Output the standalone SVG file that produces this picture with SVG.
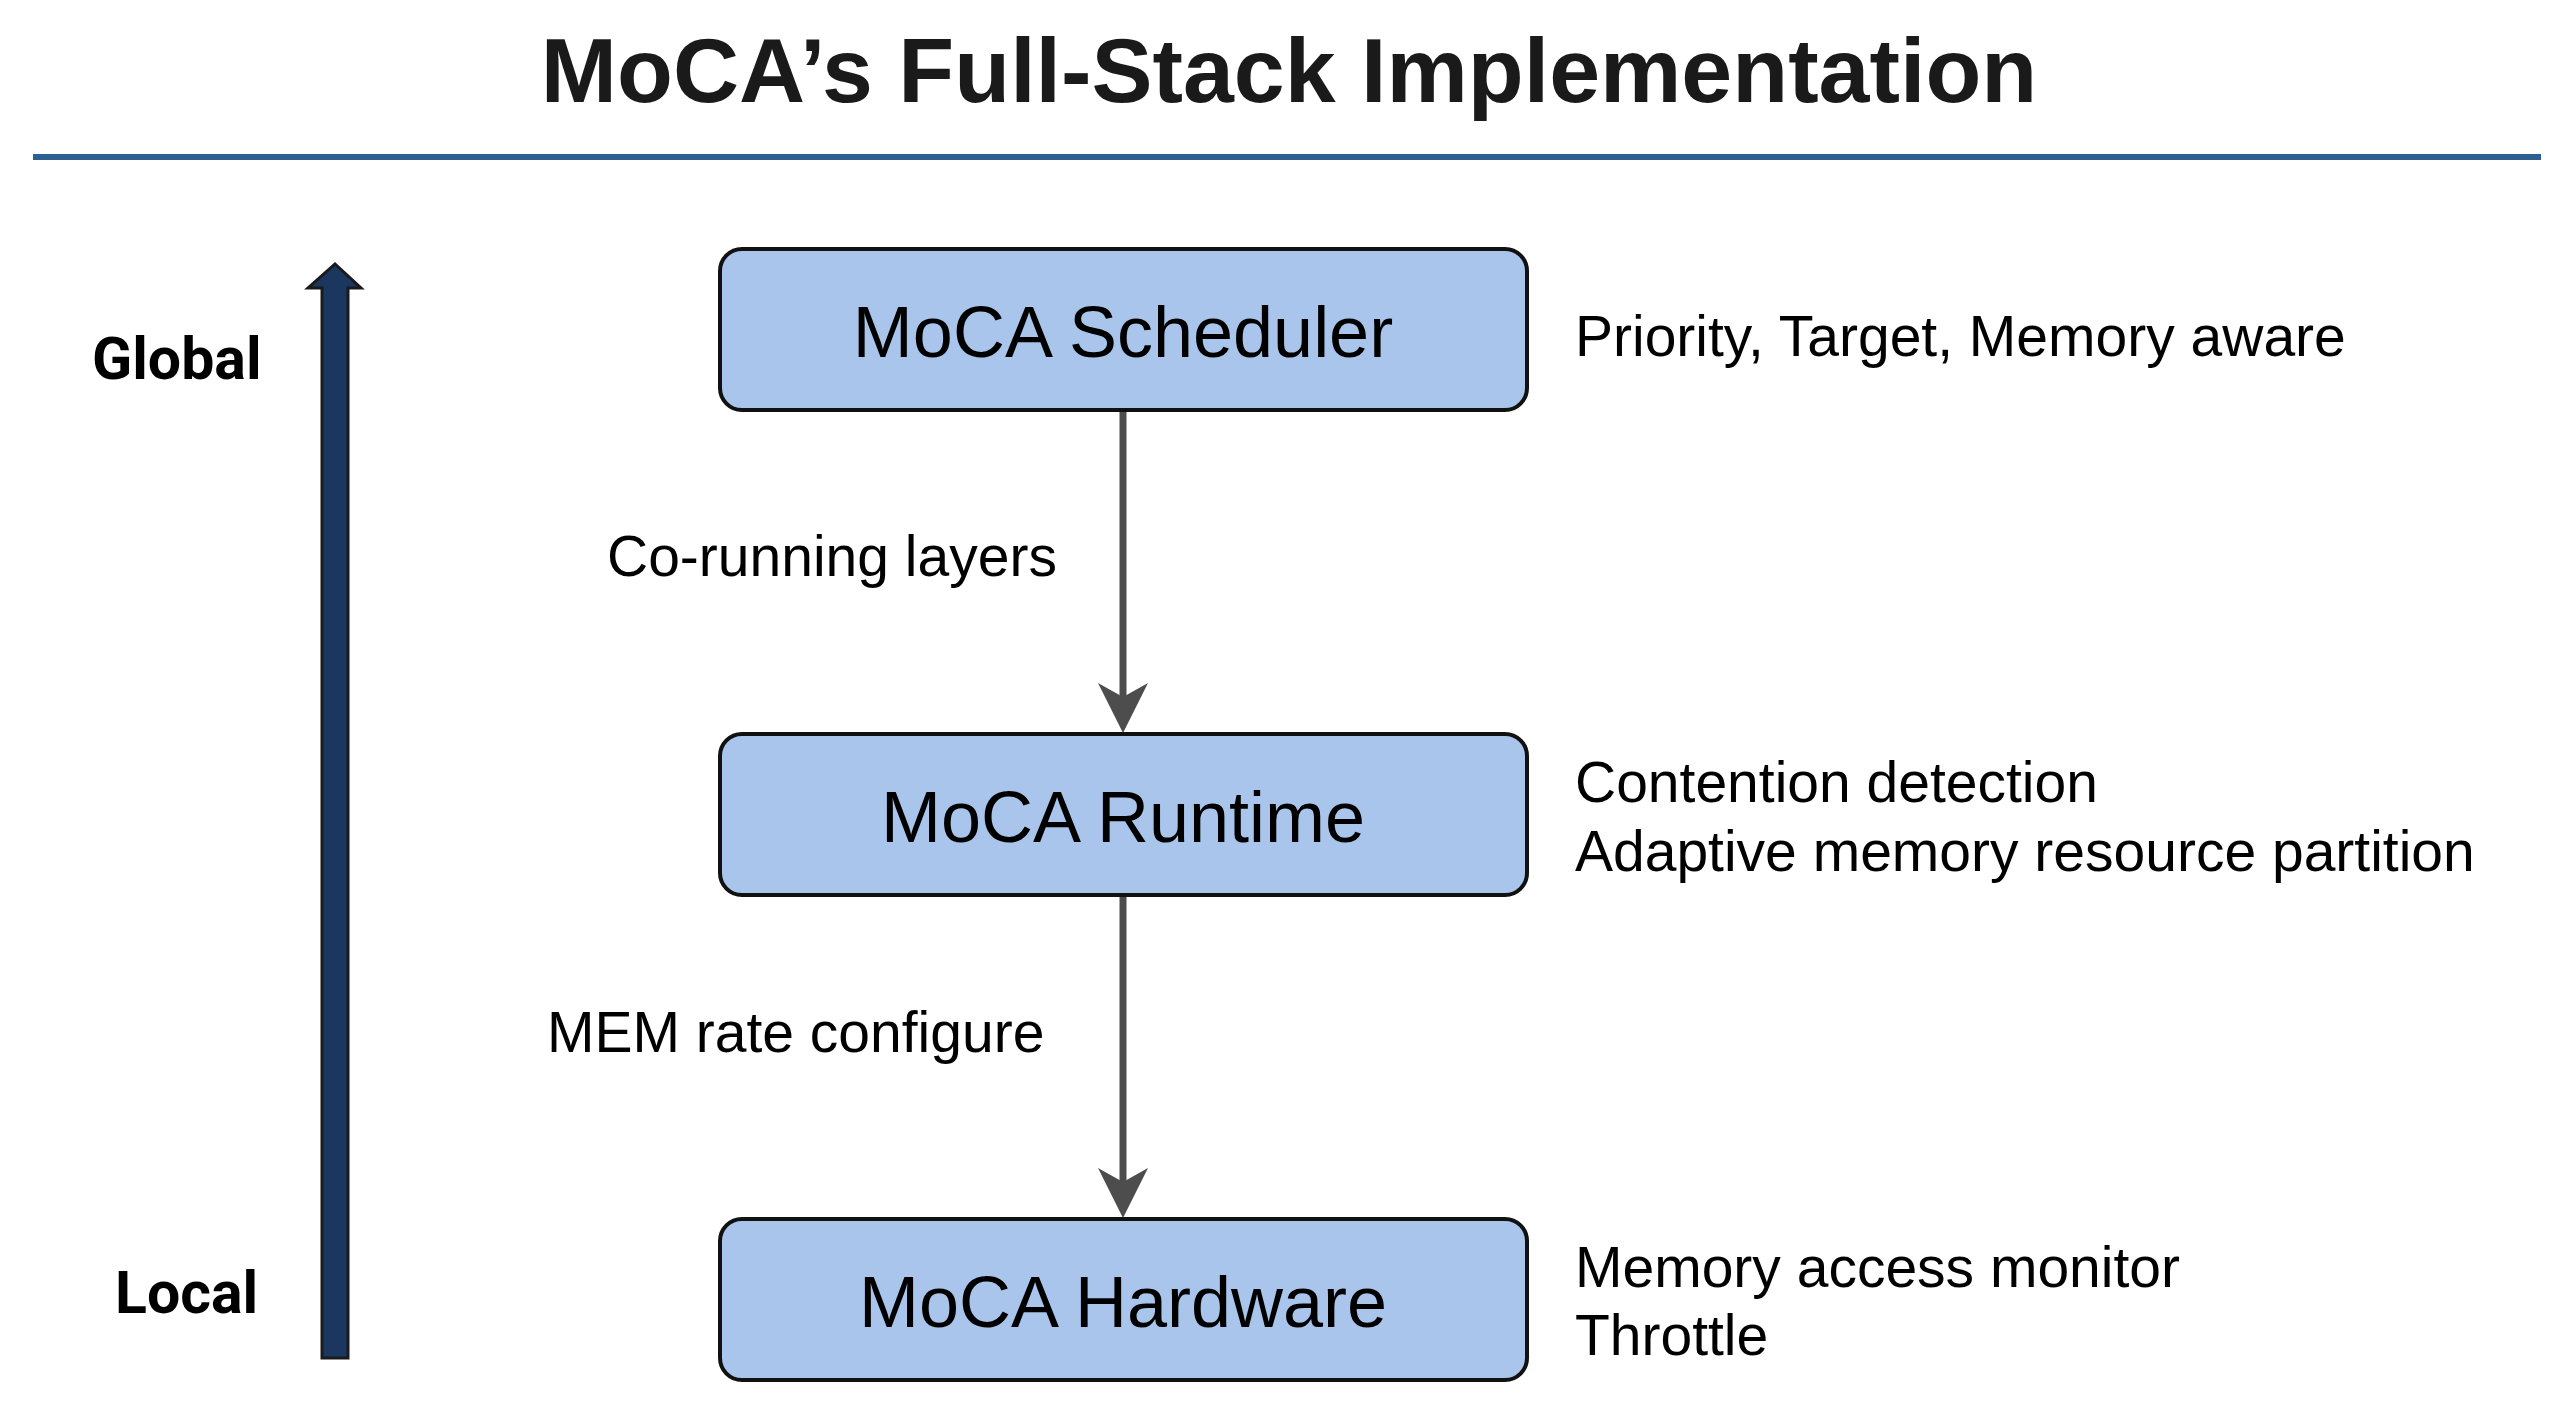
<svg xmlns="http://www.w3.org/2000/svg" width="2574" height="1406" viewBox="0 0 2574 1406">
<defs>
<style>
.title{font-family:"Liberation Sans",Arial,sans-serif;font-weight:bold;font-size:91.5px;fill:#1a1a1a}
.box{fill:#a9c5eb;stroke:#111;stroke-width:4}
.boxt{font-family:"Liberation Sans",Arial,sans-serif;font-size:72px;fill:#000;text-anchor:middle}
.lbl{font-family:"Liberation Sans",Arial,sans-serif;font-size:57px;fill:#000}
.side{font-family:Roboto,"Liberation Sans",sans-serif;font-weight:bold;font-size:59px;fill:#000}
.conn{stroke:#4d4d4d;stroke-width:7;fill:none}
.head{fill:#4d4d4d}
</style>
</defs>
<rect width="2574" height="1406" fill="#fff"/>
<text class="title" x="1289" y="102" text-anchor="middle">MoCA’s Full-Stack Implementation</text>
<rect x="33" y="154" width="2508" height="6" fill="#2d5f91"/>
<g id="scale">
<path d="M322,1358 L322,288 L308,288 L335,264 L361,288 L348,288 L348,1358 Z" fill="#1b3760" stroke="#1a1a1a" stroke-width="3" stroke-linejoin="miter"/>
<text class="side" x="92" y="379">Global</text>
<text class="side" x="115" y="1313">Local</text>
</g>
<g id="connectors">
<line class="conn" x1="1123" y1="412" x2="1123" y2="700"/>
<path class="head" d="M1123,733 L1098,683 L1123,697 L1148,683 Z"/>
<line class="conn" x1="1123" y1="896" x2="1123" y2="1185"/>
<path class="head" d="M1123,1218 L1098,1168 L1123,1182 L1148,1168 Z"/>
<text class="lbl" x="607" y="576">Co-running layers</text>
<text class="lbl" x="547" y="1052">MEM rate configure</text>
</g>
<g id="scheduler">
<rect class="box" x="720" y="249" width="807" height="161" rx="22"/>
<text class="boxt" x="1123" y="357">MoCA Scheduler</text>
<text class="lbl" x="1575" y="356">Priority, Target, Memory aware</text>
</g>
<g id="runtime">
<rect class="box" x="720" y="734" width="807" height="161" rx="22"/>
<text class="boxt" x="1123" y="842">MoCA Runtime</text>
<text class="lbl" x="1575" y="802">Contention detection</text>
<text class="lbl" x="1575" y="871">Adaptive memory resource partition</text>
</g>
<g id="hardware">
<rect class="box" x="720" y="1219" width="807" height="161" rx="22"/>
<text class="boxt" x="1123" y="1327">MoCA Hardware</text>
<text class="lbl" x="1575" y="1287">Memory access monitor</text>
<text class="lbl" x="1575" y="1355">Throttle</text>
</g>
</svg>
